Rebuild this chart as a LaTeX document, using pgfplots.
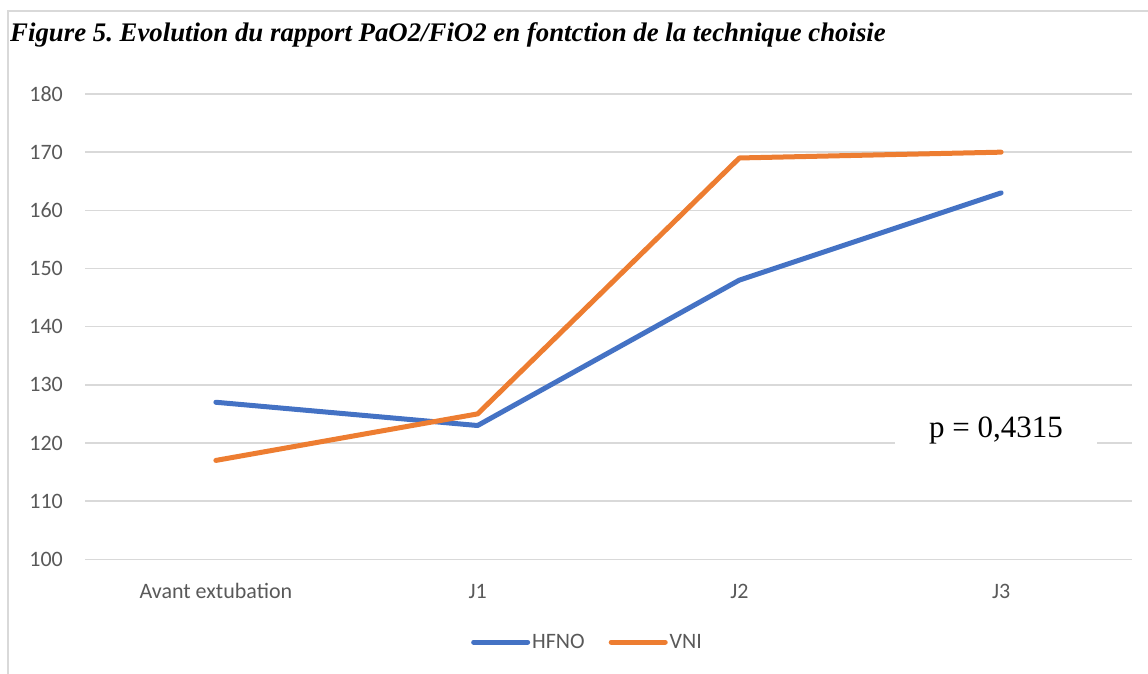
\documentclass[border=0pt]{standalone}
\usepackage{fontspec}
\setmainfont{Carlito}
\newfontfamily\timesfont{Liberation Serif}
\newfontfamily\timesbi[UprightFont=*, BoldFont=*, ItalicFont=*, BoldItalicFont=*]{Liberation Serif Bold Italic}
\usepackage{pgfplots}
\usepackage{pgfplotstable}
\pgfplotsset{compat=1.18}
\frenchspacing
\definecolor{hblue}{HTML}{4472C4}
\definecolor{vorange}{HTML}{ED7D31}
\definecolor{gridgray}{HTML}{D9D9D9}
\definecolor{labgray}{HTML}{595959}

\pgfplotstableread{
x y
0 127
1 123
2 148
3 163
}\hfno
\pgfplotstableread{
x y
0 117
1 125
2 169
3 170
}\vni

\begin{document}
\begin{tikzpicture}[x=1pt,y=1pt]
\path[use as bounding box] (0,0) rectangle (1148,674);
\draw[gridgray, line width=1.5pt] (8,0) -- (8,663) -- (1148,663);
\node[anchor=base west, inner sep=0pt, font=\timesbi\fontsize{26.8}{30}\selectfont] at (10,632) {Figure 5. Evolution du rapport PaO2/FiO2 en fontction de la technique choisie};
\begin{axis}[
  at={(85pt,114.7pt)}, anchor=south west,
  scale only axis, width=1047pt, height=465.3pt,
  xmin=-0.5, xmax=3.5, ymin=100, ymax=180,
  ytick={100,110,...,180},
  xtick={0,1,2,3},
  xticklabels={Avant extubation,J1,J2,J3},
  /pgf/number format/assume math mode=true,
  axis line style={draw=none},
  major tick length=0pt,
  ymajorgrids,
  grid style={gridgray, line width=1.5pt},
  tick label style={font=\fontsize{22}{26}\selectfont, text=labgray},
  yticklabel style={anchor=east, inner sep=0pt, xshift=-22pt},
  xticklabel style={anchor=base, inner sep=0pt, yshift=-39pt},
  legend style={at={(0.48,-0.178)}, anchor=center, draw=none, fill=none,
    legend columns=2, font=\fontsize{22}{26}\selectfont, text=labgray,
    /tikz/every even column/.append style={column sep=22pt},
    nodes={inner sep=2pt}},
  legend image code/.code={\draw[#1, line cap=round] (0pt,0pt) -- (54pt,0pt);},
]
\addplot[hblue, line width=5pt, line cap=round, line join=round] table[x=x,y=y] {\hfno};
\addlegendentry{HFNO}
\addplot[vorange, line width=5pt, line cap=round, line join=round] table[x=x,y=y] {\vni};
\addlegendentry{VNI}
\end{axis}
\node[anchor=base, fill=white, inner xsep=34pt, inner ysep=6pt, font=\timesfont\fontsize{31}{36}\selectfont] at (996,236) {p = 0,4315};
\end{tikzpicture}
\end{document}
